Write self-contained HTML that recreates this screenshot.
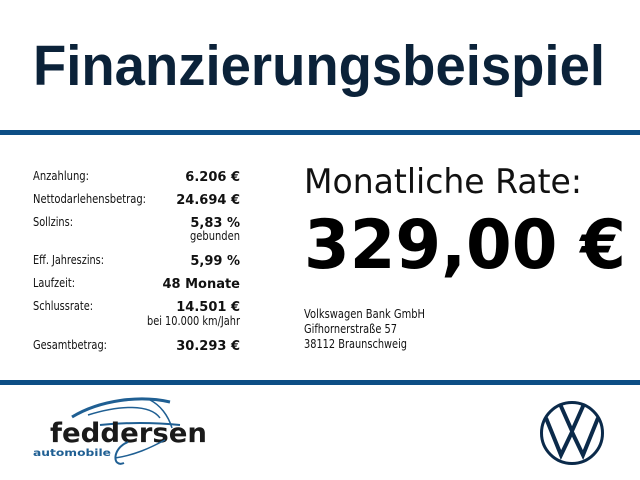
<!DOCTYPE html>
<html><head><meta charset="utf-8"><style>
html,body{margin:0;padding:0;background:#fff;width:640px;height:480px;overflow:hidden}
svg{display:block}
</style></head><body>
<svg width="640" height="480" viewBox="0 0 640 480" xmlns="http://www.w3.org/2000/svg">
<rect width="640" height="480" fill="#fff"/>
<text x="33" y="85" font-family="Liberation Sans, sans-serif" font-weight="bold" font-size="57" fill="#0b2239" textLength="572" lengthAdjust="spacingAndGlyphs">Finanzierungsbeispiel</text>
<rect x="0" y="130" width="640" height="5" fill="#0d4e85"/>
<rect x="0" y="380" width="640" height="5" fill="#0d4e85"/>
<g font-family="DejaVu Sans, sans-serif" font-size="12" fill="#111">
<text x="33" y="180" textLength="56" lengthAdjust="spacingAndGlyphs">Anzahlung:</text>
<text x="33" y="203" textLength="113" lengthAdjust="spacingAndGlyphs">Nettodarlehensbetrag:</text>
<text x="33" y="226" textLength="40" lengthAdjust="spacingAndGlyphs">Sollzins:</text>
<text x="33" y="264" textLength="71" lengthAdjust="spacingAndGlyphs">Eff. Jahreszins:</text>
<text x="33" y="287" textLength="42" lengthAdjust="spacingAndGlyphs">Laufzeit:</text>
<text x="33" y="310" textLength="60" lengthAdjust="spacingAndGlyphs">Schlussrate:</text>
<text x="33" y="349" textLength="74" lengthAdjust="spacingAndGlyphs">Gesamtbetrag:</text>
<text x="240" y="240" text-anchor="end" textLength="50" lengthAdjust="spacingAndGlyphs">gebunden</text>
<text x="240" y="325" text-anchor="end" textLength="93" lengthAdjust="spacingAndGlyphs">bei 10.000 km/Jahr</text>
</g>
<g font-family="DejaVu Sans, sans-serif" font-size="13" font-weight="bold" fill="#111" text-anchor="end">
<text x="240" y="181">6.206 €</text>
<text x="240" y="204">24.694 €</text>
<text x="240" y="227">5,83 %</text>
<text x="240" y="265">5,99 %</text>
<text x="240" y="288">48 Monate</text>
<text x="240" y="311">14.501 €</text>
<text x="240" y="350">30.293 €</text>
</g>
<text x="304" y="193" font-family="DejaVu Sans, sans-serif" font-size="34" fill="#111" textLength="278" lengthAdjust="spacingAndGlyphs">Monatliche Rate:</text>
<text x="304" y="268" font-family="DejaVu Sans, sans-serif" font-size="68" font-weight="bold" fill="#000" textLength="322" lengthAdjust="spacingAndGlyphs">329,00 €</text>
<g font-family="DejaVu Sans, sans-serif" font-size="12" fill="#111">
<text x="304" y="318" textLength="121" lengthAdjust="spacingAndGlyphs">Volkswagen Bank GmbH</text>
<text x="304" y="333" textLength="93" lengthAdjust="spacingAndGlyphs">Gifhornerstraße 57</text>
<text x="304" y="348" textLength="103" lengthAdjust="spacingAndGlyphs">38112 Braunschweig</text>
</g>
<!-- feddersen logo -->
<path d="M72 417 C100 400,140 395,170 402" stroke="#1f5f93" stroke-width="3" fill="none"/>
<path d="M88 415 C120 405,150 404,160 418" stroke="#1f5f93" stroke-width="1.5" fill="none"/>
<path d="M150 400 C160 405,168 415,172 428" stroke="#1f5f93" stroke-width="1.5" fill="none"/>
<path d="M100 425 C130 422,160 423,180 425" stroke="#1f5f93" stroke-width="2" fill="none"/>
<text x="50" y="442" font-family="DejaVu Sans, sans-serif" font-weight="bold" font-size="27" fill="#1a1a1a" textLength="157" lengthAdjust="spacingAndGlyphs">feddersen</text>
<text x="33" y="456" font-family="DejaVu Sans, sans-serif" font-weight="bold" font-size="10" fill="#1f5f93" textLength="78" lengthAdjust="spacingAndGlyphs">automobile</text>
<path d="M128 442 C112 448,112 468,124 463" stroke="#1f5f93" stroke-width="2" fill="none"/>
<path d="M115 458 C135 455,150 448,165 440" stroke="#1f5f93" stroke-width="1.5" fill="none"/>
<!-- VW logo -->
<g stroke="#0b2a4a" fill="none" stroke-linejoin="miter">
<circle cx="572" cy="433" r="30.5" stroke-width="3"/>
<path d="M546 418 L561 455 L572 432 L583 455 L598 418" stroke-width="4"/>
<path d="M560 404 L572 431 L584 404" stroke-width="4"/>
</g>
</svg>
</body></html>
